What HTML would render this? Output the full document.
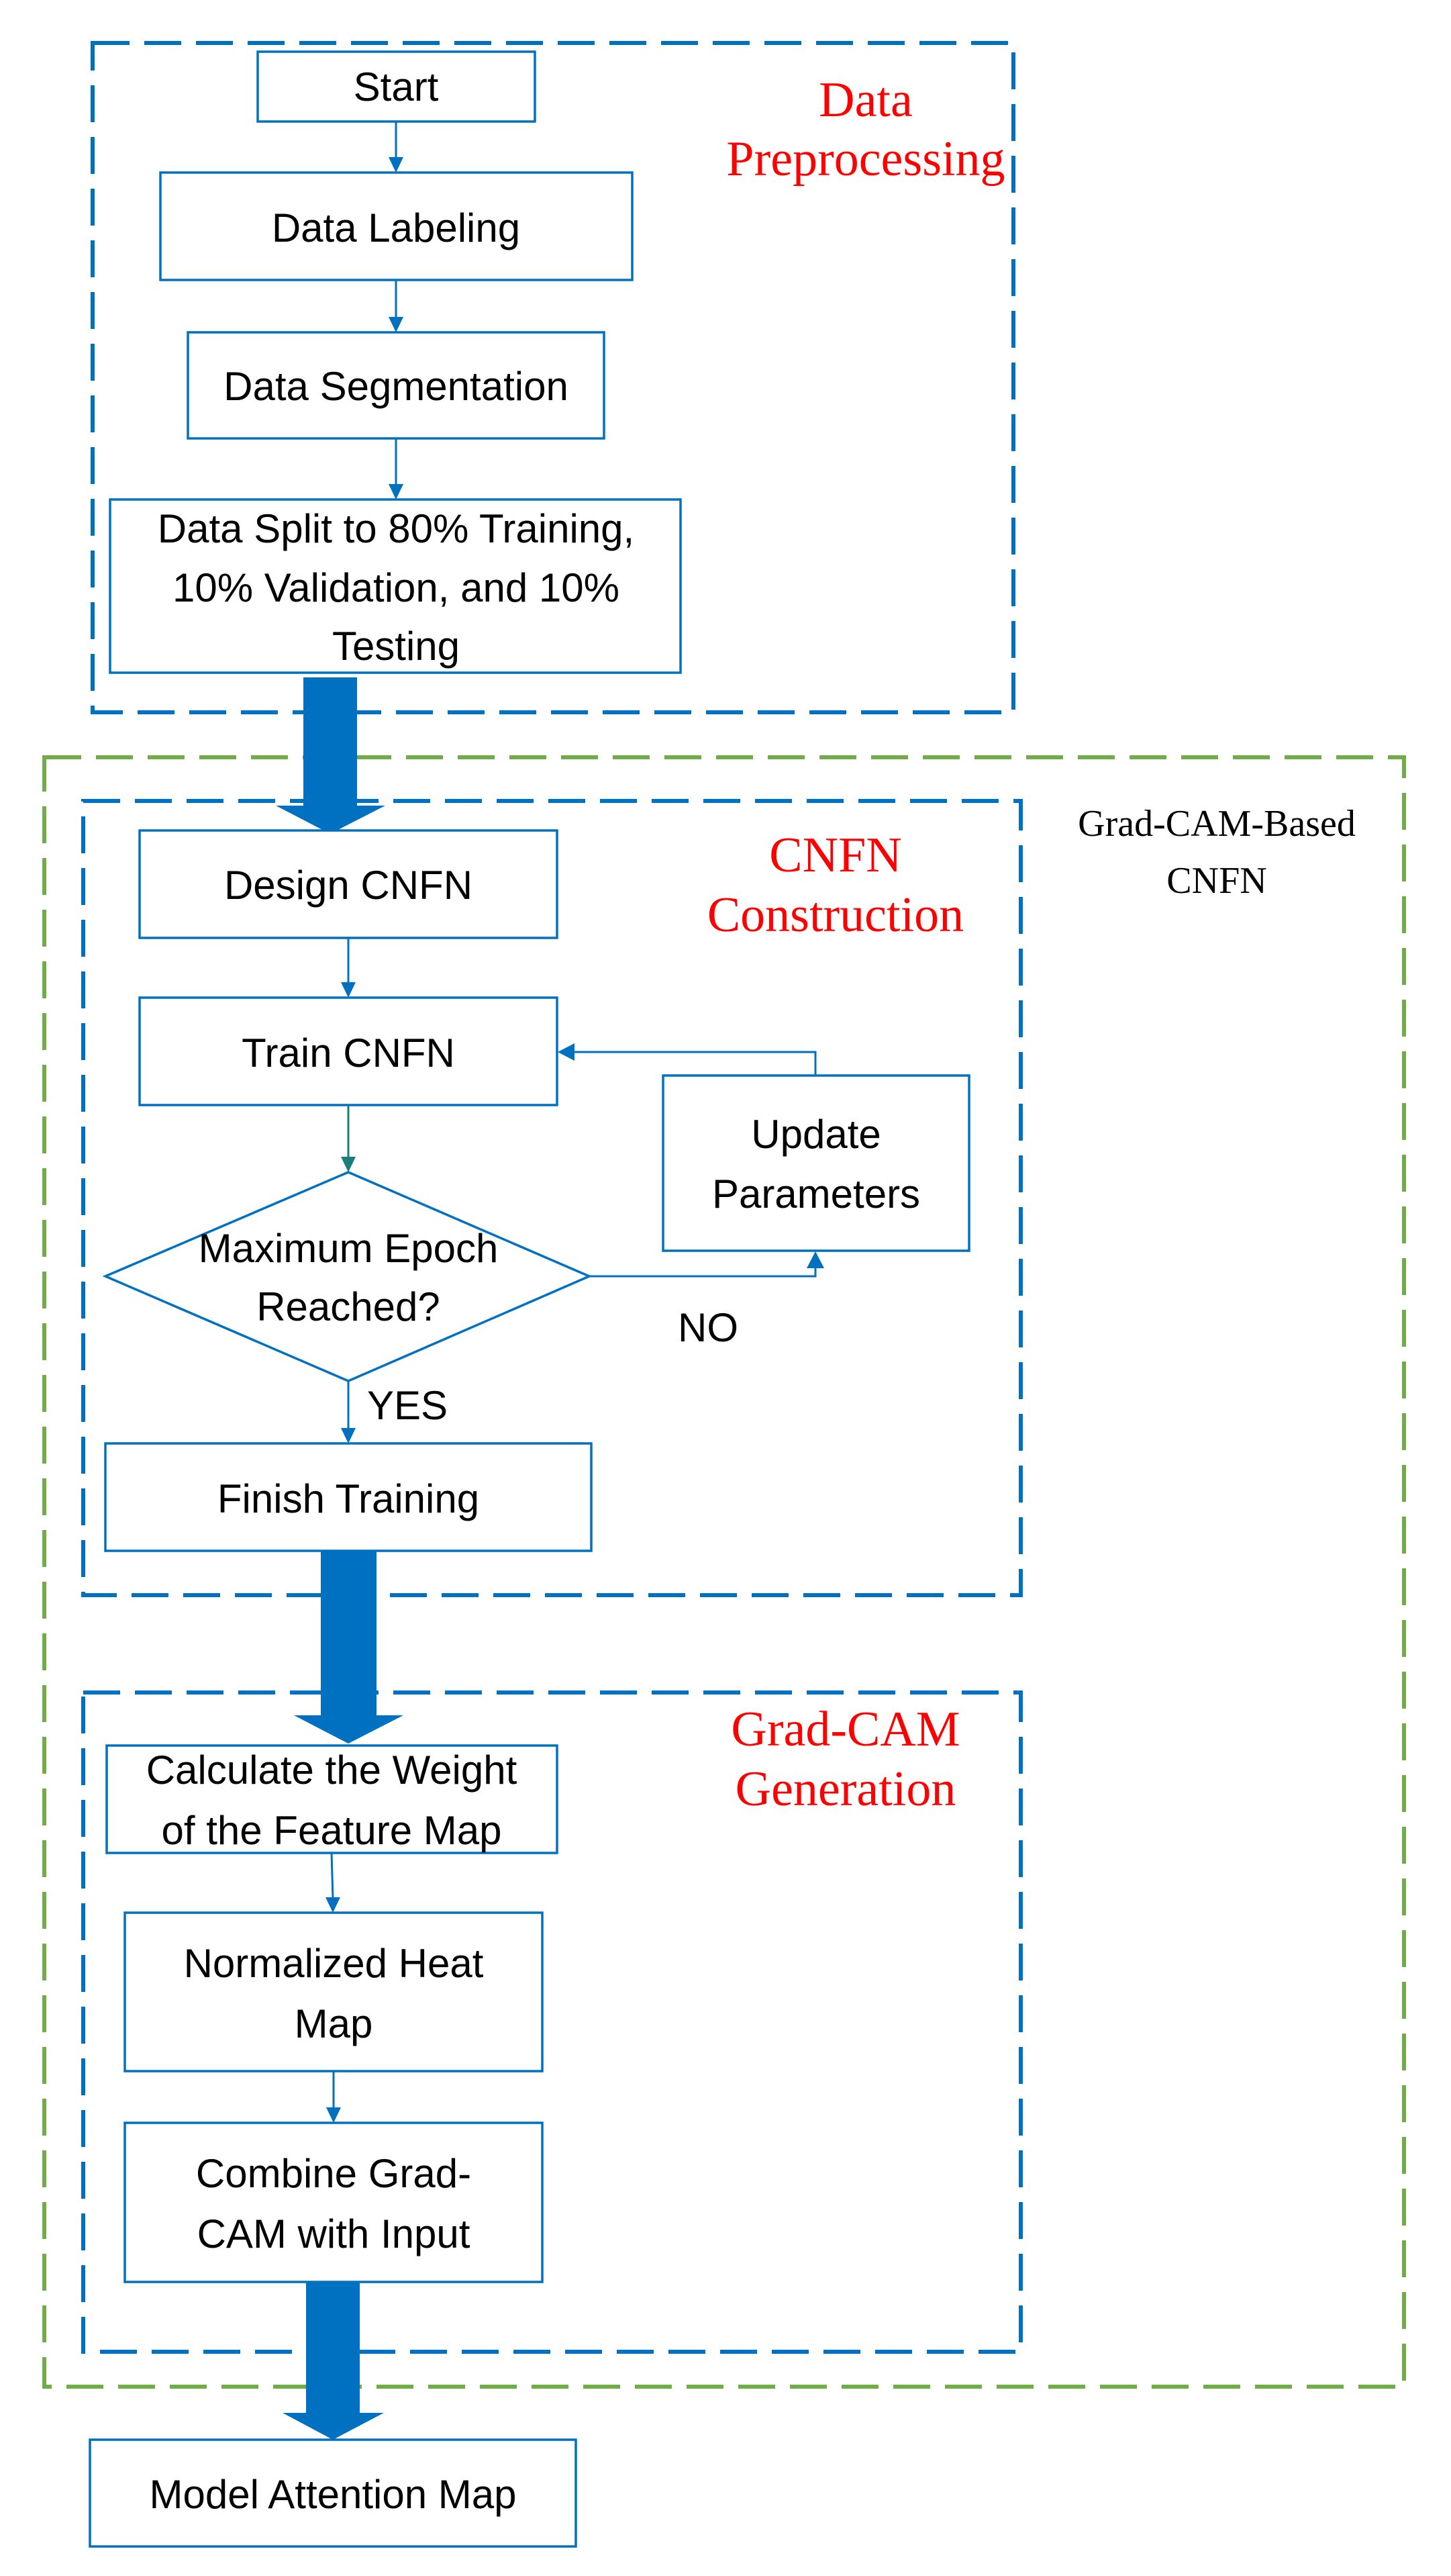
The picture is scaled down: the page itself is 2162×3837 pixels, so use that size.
<!DOCTYPE html>
<html><head><meta charset="utf-8"><style>
html,body{margin:0;padding:0;background:#fff;}
svg{display:block;}
.b{fill:#fff;stroke:#0070c0;stroke-width:3.5;}
.t{font-family:"Liberation Sans",sans-serif;font-size:60px;fill:#000;text-anchor:middle;}
.r{font-family:"Liberation Serif",serif;font-size:74px;fill:#ff0000;text-anchor:middle;}
.k{font-family:"Liberation Serif",serif;font-size:56px;fill:#000;text-anchor:middle;}
.ln{stroke:#0070c0;stroke-width:3;fill:none;}
.ah{fill:#0070c0;}
</style></head><body>
<svg width="2162" height="3837" viewBox="0 0 2162 3837" xmlns="http://www.w3.org/2000/svg">
<!-- group boxes -->
<rect x="138" y="64" width="1372" height="997" fill="none" stroke="#0070c0" stroke-width="6" stroke-dasharray="55 22"/>
<rect x="66" y="1128" width="2026" height="2427" fill="none" stroke="#70ad47" stroke-width="6" stroke-dasharray="55 22"/>
<rect x="124" y="1193" width="1397" height="1183" fill="none" stroke="#0070c0" stroke-width="6" stroke-dasharray="55 22"/>
<rect x="124" y="2521" width="1397" height="982" fill="none" stroke="#0070c0" stroke-width="6" stroke-dasharray="55 22"/>

<!-- thick arrows -->
<rect x="452" y="1009" width="80" height="192" fill="#0070c0"/>
<polygon points="411,1200 574,1200 492,1242" fill="#0070c0"/>
<rect x="478" y="2310" width="83" height="246" fill="#0070c0"/>
<polygon points="438,2555 601,2555 519,2597" fill="#0070c0"/>
<rect x="456" y="3399" width="80" height="196" fill="#0070c0"/>
<polygon points="421,3594 572,3594 496,3634" fill="#0070c0"/>

<!-- thin arrows -->
<line class="ln" x1="590" y1="181" x2="590" y2="236"/><polygon class="ah" points="579,234 601,234 590,257"/>
<line class="ln" x1="590" y1="417" x2="590" y2="474"/><polygon class="ah" points="579,472 601,472 590,495"/>
<line class="ln" x1="590" y1="653" x2="590" y2="723"/><polygon class="ah" points="579,721 601,721 590,744"/>
<line class="ln" x1="519" y1="1397" x2="519" y2="1465"/><polygon class="ah" points="508,1463 530,1463 519,1486"/>
<line x1="519" y1="1646" x2="519" y2="1725" stroke="#1a7f7a" stroke-width="3"/><polygon fill="#1a7f7a" points="508,1723 530,1723 519,1746"/>
<line class="ln" x1="519" y1="2057" x2="519" y2="2129"/><polygon class="ah" points="508,2127 530,2127 519,2150"/>
<line class="ln" x1="494" y1="2760" x2="496" y2="2828"/><polygon class="ah" points="485,2826 507,2826 496,2849"/>
<line class="ln" x1="497" y1="3085" x2="497" y2="3141"/><polygon class="ah" points="486,3139 508,3139 497,3162"/>
<!-- feedback loop -->
<polyline class="ln" stroke-width="4.5" points="1215,1602 1215,1567 855,1567"/>
<polygon class="ah" points="831,1567 856,1554 856,1580"/>
<polyline class="ln" stroke-width="4.5" points="878,1901 1215,1901 1215,1886"/>
<polygon class="ah" points="1202,1889 1228,1889 1215,1864"/>

<!-- nodes -->
<rect class="b" x="384" y="77" width="413" height="104"/>
<text class="t" x="590" y="150">Start</text>
<rect class="b" x="239" y="257" width="703" height="160"/>
<text class="t" x="590" y="360">Data Labeling</text>
<rect class="b" x="280" y="495" width="620" height="158"/>
<text class="t" x="590" y="596">Data Segmentation</text>
<rect class="b" x="164" y="744" width="850" height="258"/>
<text class="t" x="590" y="808">Data Split to 80% Training,</text>
<text class="t" x="590" y="896">10% Validation, and 10%</text>
<text class="t" x="590" y="983">Testing</text>

<rect class="b" x="208" y="1237" width="622" height="160"/>
<text class="t" x="519" y="1339">Design CNFN</text>
<rect class="b" x="208" y="1486" width="622" height="160"/>
<text class="t" x="519" y="1589">Train CNFN</text>
<rect class="b" x="988" y="1602" width="456" height="261"/>
<text class="t" x="1216" y="1710">Update</text>
<text class="t" x="1216" y="1799">Parameters</text>
<polygon class="b" points="519,1746 878,1901 519,2057 157,1901"/>
<text class="t" x="519" y="1880">Maximum Epoch</text>
<text class="t" x="519" y="1967">Reached?</text>
<text class="t" x="1055" y="1998">NO</text>
<text class="t" x="607" y="2114">YES</text>
<rect class="b" x="157" y="2150" width="724" height="160"/>
<text class="t" x="519" y="2253">Finish Training</text>

<rect class="b" x="159" y="2600" width="671" height="160"/>
<text class="t" x="494" y="2657">Calculate the Weight</text>
<text class="t" x="494" y="2747">of the Feature Map</text>
<rect class="b" x="186" y="2849" width="622" height="236"/>
<text class="t" x="497" y="2945">Normalized Heat</text>
<text class="t" x="497" y="3035">Map</text>
<rect class="b" x="186" y="3162" width="622" height="237"/>
<text class="t" x="497" y="3258">Combine Grad-</text>
<text class="t" x="497" y="3348">CAM with Input</text>
<rect class="b" x="134" y="3634" width="724" height="159"/>
<text class="t" x="496" y="3736">Model Attention Map</text>

<!-- labels -->
<text class="r" x="1290" y="173">Data</text>
<text class="r" x="1290" y="261">Preprocessing</text>
<text class="r" x="1245" y="1298">CNFN</text>
<text class="r" x="1245" y="1387">Construction</text>
<text class="r" x="1260" y="2600">Grad-CAM</text>
<text class="r" x="1260" y="2689">Generation</text>
<text class="k" x="1813" y="1245">Grad-CAM-Based</text>
<text class="k" x="1813" y="1330">CNFN</text>
</svg>
</body></html>
